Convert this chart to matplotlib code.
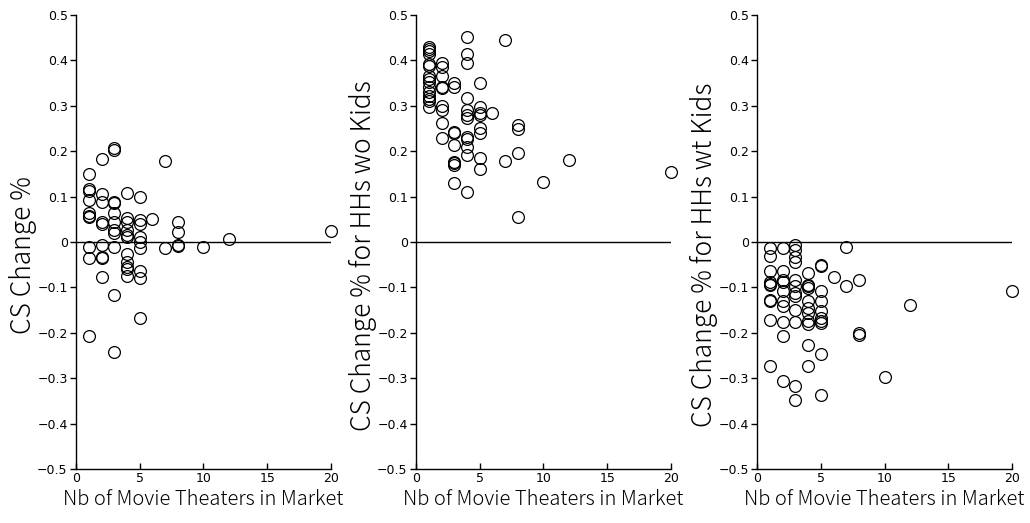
import matplotlib
matplotlib.use("Agg")
import matplotlib.pyplot as plt

# theaters per market (x) and consumer surplus change (y), per panel
x_all = [1]*10 + [2]*9 + [3]*11 + [4]*11 + [5]*9 + [6] + [7]*2 + [8]*4 + [10, 12, 20]
y_all = [0.150, 0.117, 0.113, 0.092, 0.063, 0.058, 0.055, -0.010, -0.035, -0.207,
         0.182, 0.105, 0.089, 0.043, 0.040, -0.007, -0.032, -0.036, -0.077,
         0.207, 0.202, 0.089, 0.086, 0.064, 0.045, 0.027, 0.020, -0.010, -0.116, -0.243,
         0.108, 0.053, 0.045, 0.027, 0.016, 0.011, -0.026, -0.043, -0.054, -0.059, -0.074,
         0.100, 0.049, 0.040, 0.012, 0.001, -0.013, -0.064, -0.079, -0.167,
         0.051,
         0.179, -0.013,
         0.043, 0.022, -0.008, -0.006,
         -0.010, 0.007, 0.025]

x_nokids = [1]*15 + [2]*9 + [3]*9 + [4]*12 + [5]*8 + [6] + [7]*2 + [8]*4 + [10, 12, 20]
y_nokids = [0.430, 0.425, 0.420, 0.415, 0.392, 0.388, 0.366, 0.360, 0.352, 0.342,
            0.331, 0.322, 0.316, 0.310, 0.298,
            0.394, 0.386, 0.366, 0.342, 0.339, 0.300, 0.290, 0.263, 0.229,
            0.351, 0.341, 0.243, 0.240, 0.213, 0.177, 0.174, 0.170, 0.130,
            0.451, 0.414, 0.395, 0.317, 0.291, 0.280, 0.273, 0.231, 0.227, 0.210, 0.191, 0.111,
            0.351, 0.297, 0.284, 0.280, 0.252, 0.240, 0.185, 0.161,
            0.284,
            0.445, 0.179,
            0.258, 0.249, 0.196, 0.056,
            0.132, 0.181, 0.155]

x_kids = [1]*10 + [2]*10 + [3]*12 + [4]*11 + [5]*10 + [6] + [7]*2 + [8]*3 + [10, 12, 20]
y_kids = [-0.013, -0.030, -0.065, -0.089, -0.092, -0.094, -0.127, -0.129, -0.171, -0.274,
          -0.013, -0.065, -0.084, -0.089, -0.108, -0.130, -0.141, -0.176, -0.208, -0.306,
          -0.006, -0.017, -0.032, -0.043, -0.083, -0.097, -0.112, -0.118, -0.149, -0.177,
          -0.317, -0.347,
          -0.068, -0.094, -0.097, -0.101, -0.130, -0.145, -0.156, -0.174, -0.180, -0.226, -0.274,
          -0.052, -0.108, -0.130, -0.152, -0.167, -0.174, -0.178, -0.246, -0.336, -0.051,
          -0.077,
          -0.012, -0.097,
          -0.084, -0.200, -0.204,
          -0.297, -0.139, -0.108]

panels = [
    (x_all, y_all, "CS Change %"),
    (x_nokids, y_nokids, "CS Change % for HHs wo Kids"),
    (x_kids, y_kids, "CS Change % for HHs wt Kids"),
]

xticks = [0, 5, 10, 15, 20]
yticks = [0.5, 0.4, 0.3, 0.2, 0.1, 0, -0.1, -0.2, -0.3, -0.4, -0.5]
ytick_labels = ["0.5", "0.4", "0.3", "0.2", "0.1", "0",
                "\u22120.1", "\u22120.2", "\u22120.3", "\u22120.4", "\u22120.5"]

label_font = "Noto Sans CJK JP"

fig = plt.figure(figsize=(10.30, 5.23), dpi=100)
lefts = [0.0738, 0.4039, 0.7350]
for left, (xs, ys, ylabel) in zip(lefts, panels):
    ax = fig.add_axes([left, 0.1033, 0.2475, 0.868])
    ax.plot(xs, ys, linestyle="none", marker="o", markersize=8.5, clip_on=False,
            markerfacecolor="none", markeredgecolor="black", markeredgewidth=0.9)
    ax.plot([0, 20], [0, 0], color="black", lw=1.0)
    ax.set_xlim(0, 20)
    ax.set_ylim(-0.5, 0.5)
    ax.set_xticks(xticks)
    ax.set_xticklabels([str(t) for t in xticks], fontsize=9)
    ax.set_yticks(yticks)
    ax.set_yticklabels(ytick_labels, fontsize=9)
    ax.tick_params(axis="x", direction="in", length=4, width=1, pad=2)
    ax.tick_params(axis="y", direction="out", length=4, width=1, pad=2)
    for side in ("top", "right"):
        ax.spines[side].set_visible(False)
    for side in ("left", "bottom"):
        ax.spines[side].set_linewidth(1.0)
    ax.set_xlabel("Nb of Movie Theaters in Market", fontfamily=label_font,
                  fontsize=14.5, fontweight="light", labelpad=3)
    ax.set_ylabel(ylabel, fontfamily=label_font, fontsize=19, fontweight="light")
    ax.yaxis.set_label_coords(-0.155, 0.471)

fig.savefig("out.png", dpi=100)
